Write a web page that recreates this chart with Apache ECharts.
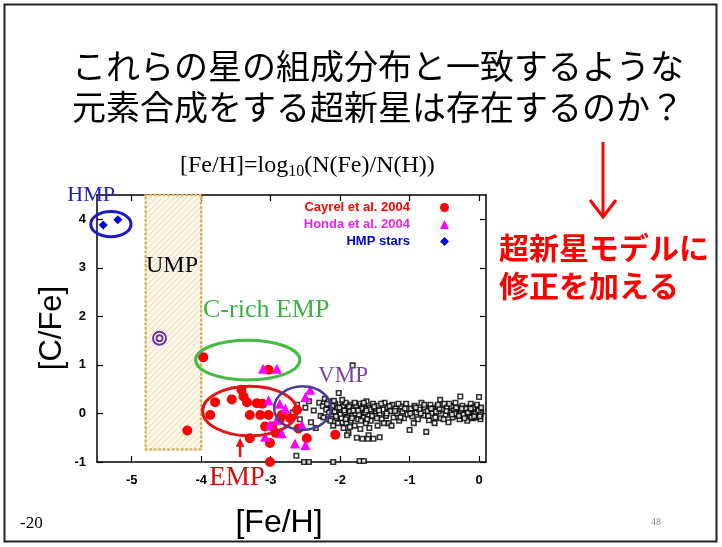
<!DOCTYPE html>
<html><head><meta charset="utf-8">
<script src="https://cdn.jsdelivr.net/npm/echarts@6/dist/echarts.min.js"></script>
<style>html,body{margin:0;padding:0;background:#fff}#c{width:722px;height:547px}</style>
</head><body><div id="c"></div>
<script>
// ---- data ----
const xTicks = [-5, -4, -3, -2, -1, 0];
const yTicks = [-1, 0, 1, 2, 3, 4];
const legendNames = ['Cayrel et al. 2004', 'Honda et al. 2004', 'HMP stars'];
const cayrel = [
  [-3.97,1.16],[-3.03,0.90],[-3.42,0.49],[-3.80,0.23],[-3.56,0.29],[-3.39,0.35],[-3.34,0.23],
  [-3.20,0.21],[-3.87,-0.03],[-3.30,-0.03],[-3.15,-0.03],[-3.03,-0.03],[-3.08,-0.27],[-2.98,-0.27],
  [-3.30,-0.51],[-3.01,-0.61],[-3.01,-1.00],[-2.62,0.07],[-2.72,-0.10],[-2.84,-0.03],[-2.48,-0.51],
  [-2.60,-0.31],[-2.07,-0.44],[-4.20,-0.35],[-2.87,-0.13],[-3.12,0.20],[-2.93,-0.40]
];
const honda = [
  [-3.11,0.92],[-2.91,0.92],[-2.43,0.49],[-2.50,0.34],[-3.03,0.27],[-2.87,0.20],[-2.79,0.10],
  [-3.01,-0.24],[-2.84,-0.41],[-3.08,-0.48],[-2.65,-0.62],[-2.50,-0.65],[-2.55,-0.24],[-2.91,-0.13]
];
const hmpStars = [[-5.41,3.88],[-5.20,3.99]];
const doubleCircle = [[-4.60,1.55]];
const field = [
  [-2.68,0.02],[-2.62,0.18],[-2.58,-0.12],[-2.50,0.12],[-2.45,0.25],[-2.42,-0.18],[-2.38,0.06],[-2.35,-0.30],
  [-2.30,0.22],[-2.28,-0.05],[-2.25,0.15],[-2.22,0.30],[-2.20,0.08],[-2.18,-0.12],[-2.17,0.25],[-2.15,0.18],
  [-2.13,-0.02],[-2.12,0.10],[-2.10,-0.25],[-2.08,0.04],[-2.07,0.20],[-2.05,-0.10],[-2.04,0.12],[-2.02,0.42],
  [-2.00,-0.02],[-1.99,0.08],[-1.97,-0.18],[-1.96,0.15],[-1.95,-0.30],[-1.93,0.02],[-1.92,0.22],[-1.90,-0.08],
  [-1.89,0.10],[-1.88,-0.40],[-1.86,0.05],[-1.85,-0.15],[-1.84,0.18],[-1.82,0.99],[-1.82,-0.05],[-1.80,0.12],
  [-1.79,-0.25],[-1.78,0.00],[-1.76,-0.50],[-1.75,0.08],[-1.74,-0.12],[-1.72,0.20],[-1.71,-0.32],[-1.70,0.03],
  [-1.68,-0.52],[-1.67,0.15],[-1.66,-0.08],[-1.65,0.10],[-1.63,-0.20],[-1.62,0.25],[-1.60,-0.02],[-1.59,-0.45],
  [-1.58,0.12],[-1.56,-0.15],[-1.55,0.05],[-1.53,0.20],[-1.52,-0.52],[-1.50,-0.05],[-1.48,0.10],[-1.46,-0.25],
  [-1.45,0.16],[-1.43,0.00],[-1.40,-0.12],[-1.38,0.08],[-1.36,0.22],[-1.34,-0.05],[-1.32,0.12],[-1.30,-0.20],
  [-1.28,0.05],[-1.25,0.18],[-1.23,-0.08],[-1.20,0.10],[-1.18,0.00],[-1.15,-0.15],[-1.12,0.14],[-1.10,0.04],
  [-1.08,-0.10],[-1.05,0.20],[-1.03,-0.02],[-1.00,-0.34],[-0.98,0.10],[-0.96,-0.06],[-0.93,0.16],[-0.90,0.02],
  [-0.88,-0.12],[-0.86,0.08],[-0.83,0.22],[-0.80,-0.04],[-0.78,0.12],[-0.76,-0.38],[-0.74,0.05],[-0.72,-0.14],
  [-0.70,0.18],[-0.68,0.00],[-0.66,0.10],[-0.63,-0.08],[-0.60,0.14],[-0.58,0.04],[-0.56,0.28],[-0.55,-0.10],
  [-0.53,0.08],[-0.50,0.20],[-0.48,-0.03],[-0.46,0.12],[-0.44,-0.18],[-0.42,0.02],[-0.40,0.15],[-0.38,-0.08],
  [-0.36,0.06],[-0.34,0.22],[-0.32,-0.02],[-0.30,0.10],[-0.28,-0.12],[-0.27,0.35],[-0.26,0.04],[-0.24,0.16],
  [-0.22,-0.05],[-0.20,0.08],[-0.18,0.00],[-0.17,-0.15],[-0.15,0.12],[-0.13,-0.04],[-0.12,0.20],[-0.10,0.02],
  [-0.09,-0.10],[-0.07,0.08],[-0.06,-0.02],[-0.04,0.14],[-0.03,-0.08],[-0.02,0.04],[0.00,0.34],[0.00,-0.04],
  [0.01,0.10],[0.02,-0.12],[0.03,0.02],
  [-2.16,0.02],[-2.11,0.16],[-2.06,-0.06],[-2.01,0.12],[-1.98,-0.10],[-1.94,0.06],[-1.91,-0.20],[-1.87,0.14],
  [-1.83,-0.10],[-1.81,0.06],[-1.77,0.16],[-1.73,-0.02],[-1.69,0.10],[-1.64,0.02],[-1.61,-0.12],[-1.57,0.08],
  [-0.14,0.05],[-0.11,-0.08],[-0.08,0.12],[-0.05,0.00],[-0.01,0.06],[0.02,-0.02],[-0.19,0.10],[-0.23,-0.02],
  [-0.35,0.00],[-0.62,0.04],[-0.57,0.10],[-1.90,-0.45],[-1.60,-0.52],[-1.43,-0.49],
  [-2.24,-0.08],[-2.19,0.20],[-2.14,-0.15],[-2.09,0.26],[-2.03,-0.20],[-1.97,0.28],[-1.92,-0.12],[-1.86,-0.28],
  [-1.79,0.22],[-1.74,0.06],[-1.70,-0.15],[-1.66,0.22],[-1.62,0.06],[-1.58,-0.30],[-1.54,-0.05],[-1.51,0.14],
  [-1.47,-0.10],[-1.44,0.06],[-1.41,0.20],[-1.37,-0.20],[-1.33,0.00],[-1.29,0.15],[-1.26,-0.25],[-1.21,0.05],
  [-1.16,0.20],[-1.13,-0.08],[-1.07,0.10],[-0.99,0.00],[-0.94,-0.20],[-0.91,0.12],[-0.84,0.00],[-0.79,0.18],
  [-0.73,-0.05],[-0.69,0.10],[-0.64,-0.20],[-0.59,0.18],[-0.51,-0.12],[-0.47,0.05],[-0.43,0.20],[-0.39,-0.02],
  [-0.33,0.12],[-0.29,-0.05],[-0.25,0.10],[-0.21,-0.10],[-0.16,0.02],[-0.12,0.10],[-0.07,-0.06],[-0.03,0.18],
  [0.01,-0.06],[0.03,0.12],
  [-2.63,-0.87],[-2.52,-1.00],[-2.45,-1.00],[-2.10,-1.00],[-1.72,-0.98],[-1.66,-0.98]
];

// ---- chart ----
const chart = echarts.init(document.getElementById('c'), null, {renderer: 'canvas'});
const axisFont = {color: '#000', fontWeight: 'bold', fontSize: 13, fontFamily: 'Liberation Sans'};
function xAx(pos, showLabel) {
  return {type: 'value', min: -5.5, max: 0.1, position: pos,
    axisLine: {onZero: false, lineStyle: {color: '#000', width: 1.5}},
    axisTick: {inside: true, length: 6, customValues: xTicks, lineStyle: {color: '#000', width: 1.2}},
    axisLabel: Object.assign({show: showLabel, customValues: xTicks, margin: 12}, axisFont),
    splitLine: {show: false}};
}
function yAx(pos, showLabel) {
  return {type: 'value', min: -1, max: 4.5, position: pos,
    axisLine: {onZero: false, lineStyle: {color: '#000', width: 1.5}},
    axisTick: {inside: true, length: 6, customValues: yTicks, lineStyle: {color: '#000', width: 1.2}},
    axisLabel: Object.assign({show: showLabel, customValues: yTicks, margin: 11}, axisFont),
    splitLine: {show: false}};
}
const option = {
  animation: false,
  backgroundColor: '#fff',
  grid: {left: 97, top: 195, width: 389, height: 267},
  xAxis: [xAx('bottom', true), xAx('top', false)],
  yAxis: [yAx('left', true), yAx('right', false)],
  legend: {
    orient: 'vertical', right: 273, top: 200, padding: 0, align: 'right',
    itemWidth: 9, itemHeight: 9, itemGap: 2, selectedMode: false,
    textStyle: {fontSize: 13, fontWeight: 'bold', fontFamily: 'Liberation Sans', lineHeight: 15, padding: [0, 25, 0, 0]},
    data: [
      {name: legendNames[0], textStyle: {color: '#ff0000'}},
      {name: legendNames[1], textStyle: {color: '#ee22ee'}},
      {name: legendNames[2], textStyle: {color: '#0000dd'}}
    ]
  },
  series: [
    {name: 'field', type: 'scatter', data: field, symbol: 'rect', symbolSize: 4.5, clip: false, z: 3,
      itemStyle: {color: '#fff', borderColor: '#000', borderWidth: 1.6}},
    {name: legendNames[0], type: 'scatter', data: cayrel, symbol: 'circle', symbolSize: 10, clip: false, z: 4,
      itemStyle: {color: '#ff0000', opacity: 1}},
    {name: legendNames[1], type: 'scatter', data: honda, symbol: 'triangle', symbolSize: 10, clip: false, z: 5,
      itemStyle: {color: '#ff00ff', opacity: 1}},
    {name: legendNames[2], type: 'scatter', data: hmpStars, symbol: 'diamond', symbolSize: 9, clip: false, z: 5,
      itemStyle: {color: '#0000dd', opacity: 1}},
    {name: 'special', type: 'scatter', data: doubleCircle, symbol: 'emptyCircle', symbolSize: 13, clip: false, z: 5,
      itemStyle: {color: '#7030a0', borderColor: '#7030a0', borderWidth: 1.6, opacity: 1}},
    {name: 'special2', type: 'scatter', data: doubleCircle, symbol: 'emptyCircle', symbolSize: 6, clip: false, z: 6,
      itemStyle: {color: '#7030a0', borderColor: '#7030a0', borderWidth: 1.6, opacity: 1}}
  ]
};
chart.setOption(option);

// ---- annotations ----
function px(x, y) { return chart.convertToPixel({gridIndex: 0}, [x, y]); }
function ell(cx, cy, rx, ry, color, w) {
  const c = px(cx, cy), e = px(cx + rx, cy + ry);
  return {type: 'ellipse', z: 20, silent: true,
    shape: {cx: c[0], cy: c[1], rx: Math.abs(e[0] - c[0]), ry: Math.abs(e[1] - c[1])},
    style: {fill: 'none', stroke: color, lineWidth: w}};
}
function txt(x, y, text, size, family, color, opts) {
  return Object.assign({type: 'text', x: x, y: y, z: 30, silent: true,
    style: Object.assign({text: text, fontSize: size, fontFamily: family, fill: color,
      align: 'center', verticalAlign: 'middle'}, (opts && opts.style) || {})},
    (opts && opts.el) || {});
}
// hatch pattern
const pc = document.createElement('canvas');
pc.width = 6; pc.height = 6;
const g = pc.getContext('2d');
g.fillStyle = '#fcf6e9'; g.fillRect(0, 0, 6, 6);
g.strokeStyle = '#e9d8b4'; g.lineWidth = 1;
g.beginPath(); g.moveTo(-1, 7); g.lineTo(7, -1); g.stroke();
g.beginPath(); g.moveTo(-1, 1); g.lineTo(1, -1); g.stroke();
g.beginPath(); g.moveTo(5, 7); g.lineTo(7, 5); g.stroke();

const b1 = px(-4.8, 4.5), b2 = px(-4.0, -0.74);
const a1 = px(-3.44, -0.90), a2 = px(-3.44, -0.50);
const serif = 'Liberation Serif';
const jp = 'Noto Sans CJK JP';
const graphics = [
  {type: 'rect', z: -10, silent: true, shape: {x: 4.5, y: 4.5, width: 712, height: 537},
    style: {fill: 'none', stroke: '#222', lineWidth: 2}},
  {type: 'rect', z: 1, silent: true,
    shape: {x: b1[0], y: b1[1], width: b2[0] - b1[0], height: b2[1] - b1[1]},
    style: {fill: {image: pc, repeat: 'repeat'}, stroke: '#d6b55e', lineWidth: 2.5, lineDash: [1, 3.5], lineCap: 'round'}},
  ell(-5.30, 3.90, 0.29, 0.26, '#1a1acc', 3),
  ell(-3.33, 1.10, 0.75, 0.41, '#44bb44', 3),
  ell(-3.30, 0.05, 0.68, 0.51, '#e31414', 3),
  ell(-2.54, 0.11, 0.41, 0.45, '#4b3d8f', 2.5),
  // EMP arrow
  {type: 'line', z: 20, silent: true, shape: {x1: a1[0], y1: a1[1], x2: a2[0], y2: a2[1] + 4},
    style: {stroke: '#e31414', lineWidth: 2.5}},
  {type: 'polygon', z: 20, silent: true,
    shape: {points: [[a2[0], a2[1]], [a2[0] - 4.5, a2[1] + 9], [a2[0] + 4.5, a2[1] + 9]]},
    style: {fill: '#e31414'}},
  // title
  txt(378, 66, 'これらの星の組成分布と一致するような', 34, jp, '#000'),
  txt(378, 107, '元素合成をする超新星は存在するのか？', 34, jp, '#000'),
  // formula
  {type: 'text', x: 180, y: 166, z: 30, silent: true,
    style: {text: '{a|[Fe/H]=log}{s|10}{a|(N(Fe)/N(H))}', align: 'left', verticalAlign: 'middle',
      rich: {a: {fontSize: 24, fontFamily: serif, lineHeight: 28, fill: '#000'},
             s: {fontSize: 16, fontFamily: serif, lineHeight: 16, padding: [12, 0, 0, 0], fill: '#000'}}}},
  // red arrow right side
  {type: 'line', z: 20, silent: true, shape: {x1: 603, y1: 142, x2: 603, y2: 216},
    style: {stroke: '#ff0000', lineWidth: 3}},
  {type: 'polyline', z: 20, silent: true, shape: {points: [[590, 200], [603, 217], [616, 200]]},
    style: {stroke: '#ff0000', lineWidth: 3, fill: 'none'}},
  txt(499, 248, '超新星モデルに', 30, jp, '#ff0000', {style: {align: 'left', fontWeight: 'bold'}}),
  txt(499, 286, '修正を加える', 30, jp, '#ff0000', {style: {align: 'left', fontWeight: 'bold'}}),
  // axis titles
  txt(52, 328, '[C/Fe]', 31, 'Liberation Sans', '#000', {el: {rotation: Math.PI / 2}}),
  txt(279, 523, '[Fe/H]', 32, 'Liberation Sans', '#000'),
  txt(20, 524, '-20', 17, serif, '#000', {style: {align: 'left'}}),
  txt(656, 522, '48', 10, serif, '#888'),
  // region labels
  txt(115, 195, 'HMP', 22, serif, '#2020c0', {style: {align: 'right'}}),
  txt(172, 266, 'UMP', 24, serif, '#000'),
  txt(203, 310, 'C-rich EMP', 26, serif, '#3cb043', {style: {align: 'left'}}),
  txt(343, 376, 'VMP', 23, serif, '#7b3fa8'),
  txt(237, 478, 'EMP', 27, serif, '#cc1010')
];
chart.setOption({graphic: {elements: graphics}});
</script>
</body></html>
